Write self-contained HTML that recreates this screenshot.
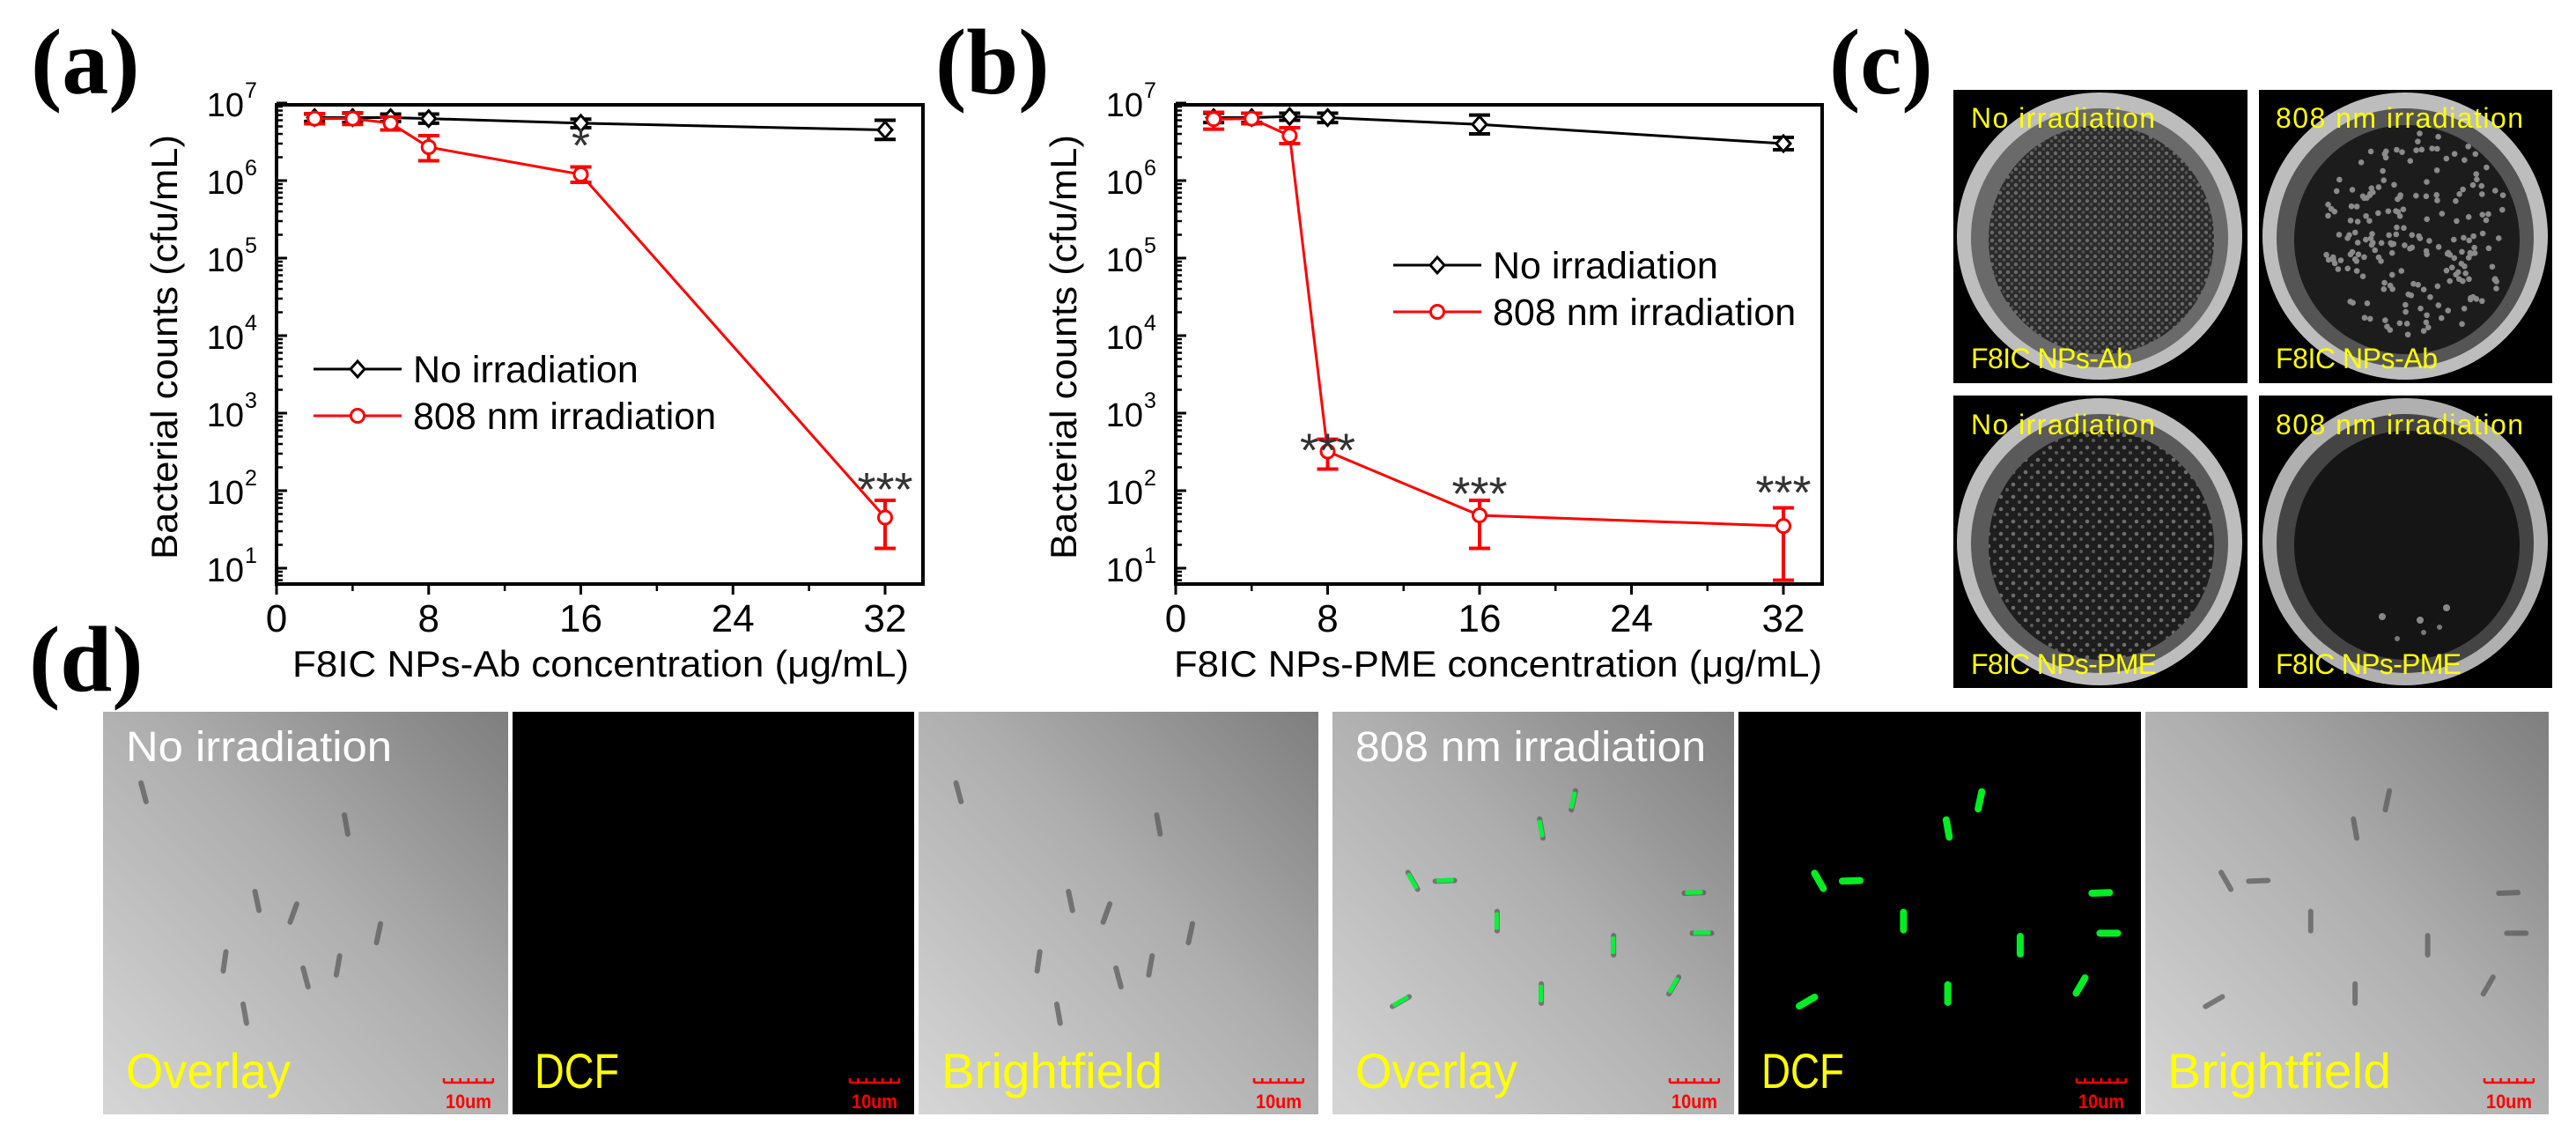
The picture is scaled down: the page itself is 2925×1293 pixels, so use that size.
<!DOCTYPE html>
<html><head><meta charset="utf-8"><style>
html,body{margin:0;padding:0;background:#fff}
svg{display:block}
text{font-family:"Liberation Sans",sans-serif}
</style></head><body>
<svg id="fig" width="2925" height="1293" viewBox="0 0 2925 1293" xmlns="http://www.w3.org/2000/svg">
<defs>
<linearGradient id="micro" x1="1" y1="0" x2="0" y2="1">
<stop offset="0" stop-color="#7e7e7e"/><stop offset="0.45" stop-color="#aeaeae"/><stop offset="1" stop-color="#d6d6d6"/>
</linearGradient>
<radialGradient id="agar" cx="0.5" cy="0.5" r="0.5">
<stop offset="0" stop-color="#2a2a2a"/><stop offset="1" stop-color="#1a1a1a"/>
</radialGradient>
<pattern id="dense" width="9" height="9" patternUnits="userSpaceOnUse">
<rect width="9" height="9" fill="#2b2b2b"/><circle cx="3" cy="3" r="2.2" fill="#6a6a6a"/><circle cx="7.5" cy="7" r="1.8" fill="#555"/>
</pattern>
<pattern id="medium" width="14" height="14" patternUnits="userSpaceOnUse">
<rect width="14" height="14" fill="#1e1e1e"/><circle cx="4" cy="4" r="2.3" fill="#6d6d6d"/><circle cx="11" cy="10" r="2" fill="#5a5a5a"/>
</pattern>
</defs>

<g id="panel-labels">
<text x="35" y="106" font-family="Liberation Serif" font-weight="bold" font-size="106" style="font-family:'Liberation Serif',serif">(a)</text>
<text x="1062" y="106" font-weight="bold" font-size="106" style="font-family:'Liberation Serif',serif">(b)</text>
<text x="2077" y="106" font-weight="bold" font-size="106" style="font-family:'Liberation Serif',serif">(c)</text>
<text x="33" y="784" font-weight="bold" font-size="106" style="font-family:'Liberation Serif',serif">(d)</text>
</g>

<g id="chart-a"></g>
<g id="chart-b"></g>

<!-- panel c -->
<g id="panel-c">
<g>
<rect x="2218" y="102" width="334" height="333" fill="#000"/>
<ellipse cx="2384" cy="268" rx="162" ry="163" fill="#bdbdbd"/>
<ellipse cx="2384" cy="270" rx="146" ry="147" fill="#6a6a6a"/>
<ellipse cx="2386" cy="272" rx="128" ry="130" fill="url(#dense)"/>
<text x="2238" y="145" font-size="32" fill="#ffff00" textLength="209">No irradiation</text>
<text x="2238" y="418" font-size="32" fill="#ffff00" textLength="183">F8IC NPs-Ab</text>
</g>
<g>
<rect x="2565" y="102" width="333" height="333" fill="#000"/>
<ellipse cx="2731" cy="268" rx="162" ry="163" fill="#bdbdbd"/>
<ellipse cx="2731" cy="270" rx="146" ry="147" fill="#555"/>
<ellipse cx="2733" cy="272" rx="128" ry="130" fill="#1c1c1c"/>
<g id="colonies-ab" fill="#8a8a8a"></g>
<text x="2584" y="145" font-size="32" fill="#ffff00" textLength="281">808 nm irradiation</text>
<text x="2584" y="418" font-size="32" fill="#ffff00" textLength="184">F8IC NPs-Ab</text>
</g>
<g>
<rect x="2218" y="449" width="334" height="332" fill="#000"/>
<ellipse cx="2384" cy="615" rx="162" ry="163" fill="#bdbdbd"/>
<ellipse cx="2384" cy="617" rx="146" ry="147" fill="#5a5a5a"/>
<ellipse cx="2386" cy="619" rx="128" ry="130" fill="url(#medium)"/>
<text x="2238" y="493" font-size="32" fill="#ffff00" textLength="209">No irradiation</text>
<text x="2238" y="765" font-size="32" fill="#ffff00" textLength="211">F8IC NPs-PME</text>
</g>
<g>
<rect x="2565" y="449" width="333" height="332" fill="#000"/>
<ellipse cx="2731" cy="615" rx="162" ry="163" fill="#b0b0b0"/>
<ellipse cx="2731" cy="617" rx="146" ry="147" fill="#444"/>
<ellipse cx="2733" cy="619" rx="128" ry="130" fill="#151515"/>
<circle cx="2778" cy="690" r="4" fill="#888"/><circle cx="2748" cy="704" r="4" fill="#888"/><circle cx="2705" cy="700" r="4" fill="#888"/><circle cx="2770" cy="712" r="3" fill="#777"/><circle cx="2722" cy="725" r="3" fill="#777"/><circle cx="2752" cy="718" r="3" fill="#777"/>
<text x="2584" y="493" font-size="32" fill="#ffff00" textLength="281">808 nm irradiation</text>
<text x="2584" y="765" font-size="32" fill="#ffff00" textLength="211">F8IC NPs-PME</text>
</g>
</g>

<!-- panel d -->
<g id="panel-d"></g>
</svg>

<script>
const NS = "http://www.w3.org/2000/svg";
function mk(parent, tag, attrs, txt) {
  const e = document.createElementNS(NS, tag);
  for (const k in attrs) e.setAttribute(k, attrs[k]);
  if (txt !== undefined) e.textContent = txt;
  parent.appendChild(e);
  return e;
}

// ---- chart data ----
const concentrations = [2, 4, 6, 8, 16, 32];
const xTicks = [0, 8, 16, 24, 32];
const yExponents = [1, 2, 3, 4, 5, 6, 7];
const seriesNames = ["No irradiation", "808 nm irradiation"];

const aNoIrr = [6.5e6, 6.5e6, 6.5e6, 6.3e6, 5.5e6, 4.5e6];
const aNoIrrLo = [5.8e6, 5.6e6, 5.8e6, 5.5e6, 4.8e6, 3.4e6];
const aNoIrrHi = [7.2e6, 7.4e6, 7.2e6, 7.2e6, 6.2e6, 6.0e6];
const aIrr = [6.3e6, 6.3e6, 5.5e6, 2.7e6, 1.2e6, 45];
const aIrrLo = [5.4e6, 5.3e6, 4.5e6, 1.8e6, 0.95e6, 18];
const aIrrHi = [7.3e6, 7.5e6, 6.6e6, 3.8e6, 1.5e6, 75];
const aStars = ["", "", "", "", "*", "***"];

const bNoIrr = [6.5e6, 6.5e6, 6.7e6, 6.5e6, 5.3e6, 3.0e6];
const bNoIrrLo = [5.6e6, 5.6e6, 6.0e6, 5.6e6, 4.0e6, 2.5e6];
const bNoIrrHi = [7.4e6, 7.4e6, 7.4e6, 7.4e6, 7.0e6, 3.6e6];
const bIrr = [6.2e6, 6.3e6, 3.8e6, 320, 48, 35];
const bIrrLo = [4.6e6, 5.4e6, 3.0e6, 190, 18, 7];
const bIrrHi = [7.6e6, 7.4e6, 4.8e6, 460, 75, 60];
const bStars = ["", "", "", "***", "***", "***"];

function drawChart(g, cfg) {
  const L = cfg.left, R = cfg.right, T = 119, B = 663;
  const x0 = cfg.x0, xPer = cfg.xPer;
  const y7 = 117, dec = 88;
  const X = v => x0 + v * xPer;
  const Y = v => y7 + (7 - Math.log10(v)) * dec;

  // frame
  const frame = mk(g, "rect", {x: L, y: T, width: R - L, height: B - T, fill: "none", stroke: "#000", "stroke-width": 4});
  
  

  // y ticks (major + minor)
  yExponents.forEach(e => {
    const y = Y(Math.pow(10, e));
    mk(g, "line", {x1: L, x2: L + 12, y1: y, y2: y, stroke: "#000", "stroke-width": 3});
    const t = mk(g, "text", {x: L - 37, y: y + 15, "font-size": 38, "text-anchor": "end"}, "10");
    
    
    const s = mk(g, "text", {x: L - 36, y: y - 6, "font-size": 25}, String(e));
    
    
  });
  for (let e = 0; e <= 6; e++) {
    for (let m = 2; m <= 9; m++) {
      const y = Y(m * Math.pow(10, e));
      if (y < T || y > B) continue;
      mk(g, "line", {x1: L, x2: L + 7, y1: y, y2: y, stroke: "#000", "stroke-width": 2.5});
    }
  }
  // x ticks
  xTicks.forEach(v => {
    const x = X(v);
    mk(g, "line", {x1: x, x2: x, y1: B, y2: B + 12, stroke: "#000", "stroke-width": 3});
    const t = mk(g, "text", {x: x, y: 717, "font-size": 44, "text-anchor": "middle"}, String(v));
    
    
  });
  [4, 12, 20, 28].forEach(v => {
    const x = X(v);
    mk(g, "line", {x1: x, x2: x, y1: B, y2: B + 8, stroke: "#000", "stroke-width": 2.5});
  });

  // titles
  const xt = mk(g, "text", {x: cfg.xtX, y: 768, "font-size": 42, textLength: cfg.xtLen, lengthAdjust: "spacingAndGlyphs"}, cfg.xTitle);
  
  
  const yt = mk(g, "text", {x: 0, y: 0, "font-size": 42, "text-anchor": "middle", textLength: 482, lengthAdjust: "spacingAndGlyphs", transform: `translate(${cfg.ytX},394) rotate(-90)`}, "Bacterial counts (cfu/mL)");
  
  

  function series(vals, lo, hi, color, marker, name) {
    const sg = mk(g, "g", {});
    
    
    const pts = concentrations.map((c, i) => X(c) + "," + Y(vals[i])).join(" ");
    mk(sg, "polyline", {points: pts, fill: "none", stroke: color, "stroke-width": 3});
    concentrations.forEach((c, i) => {
      const x = X(c);
      const eb = mk(sg, "path", {d: `M${x},${Y(lo[i])}V${Y(hi[i])}M${x - 12},${Y(lo[i])}H${x + 12}M${x - 12},${Y(hi[i])}H${x + 12}`, stroke: color, "stroke-width": 4, fill: "none"});
      
      
      const y = Y(vals[i]);
      let m;
      if (marker === "diamond") m = mk(sg, "path", {d: `M${x},${y - 9}L${x + 8},${y}L${x},${y + 9}L${x - 8},${y}Z`, fill: "#fff", stroke: color, "stroke-width": 3});
      else m = mk(sg, "circle", {cx: x, cy: y, r: 7.5, fill: "#fff", stroke: color, "stroke-width": 3});
      
      
    });
  }
  series(cfg.noIrr, cfg.noLo, cfg.noHi, "#000", "diamond", "series-no-irradiation");
  series(cfg.irr, cfg.irrLo, cfg.irrHi, "#ff0000", "circle", "series-808-irradiation");

  // significance stars
  concentrations.forEach((c, i) => {
    if (!cfg.stars[i]) return;
    const t = mk(g, "text", {x: X(c), y: Y(cfg.irrHi[i]) - 14 + cfg.starOff[i], "font-size": 54, "text-anchor": "middle", fill: "#333"}, cfg.stars[i]);
    
    
  });

  // legend
  const lg = mk(g, "g", {});
  
  
  [["#000", "diamond"], ["#ff0000", "circle"]].forEach((s, i) => {
    const y = cfg.legY + i * 53;
    const e = mk(lg, "g", {});
    
    
    mk(e, "line", {x1: cfg.legX, x2: cfg.legX + 100, y1: y, y2: y, stroke: s[0], "stroke-width": 3});
    const cx = cfg.legX + 50;
    if (s[1] === "diamond") mk(e, "path", {d: `M${cx},${y - 9}L${cx + 8},${y}L${cx},${y + 9}L${cx - 8},${y}Z`, fill: "#fff", stroke: s[0], "stroke-width": 3});
    else mk(e, "circle", {cx: cx, cy: y, r: 7.5, fill: "#fff", stroke: s[0], "stroke-width": 3});
    mk(e, "text", {x: cfg.legX + 113, y: y + 15, "font-size": 43}, seriesNames[i]);
  });
}

drawChart(document.getElementById("chart-a"), {
  left: 314, right: 1048, x0: 314, xPer: (1005 - 314) / 32,
  xTitle: "F8IC NPs-Ab concentration (\u03bcg/mL)", xtX: 332, xtLen: 700, ytX: 201,
  noIrr: aNoIrr, noLo: aNoIrrLo, noHi: aNoIrrHi, irr: aIrr, irrLo: aIrrLo, irrHi: aIrrHi,
  stars: aStars, starOff: [0, 0, 0, 0, 8, 20], legX: 356, legY: 419
});
drawChart(document.getElementById("chart-b"), {
  left: 1335, right: 2069, x0: 1335, xPer: (2025 - 1335) / 32,
  xTitle: "F8IC NPs-PME concentration (\u03bcg/mL)", xtX: 1333, xtLen: 736, ytX: 1222,
  noIrr: bNoIrr, noLo: bNoIrrLo, noHi: bNoIrrHi, irr: bIrr, irrLo: bIrrLo, irrHi: bIrrHi,
  stars: bStars, starOff: [0, 0, 0, 45, 25, 15], legX: 1582, legY: 301
});

// colonies on dish (808 Ab) - fixed texture positions via simple deterministic sequence
(function () {
  const g = document.getElementById("colonies-ab");
  let s = 7;
  function nx() { s = (s * 9301 + 49297) % 233280; return s / 233280; }
  for (let i = 0; i < 200; i++) {
    const a = nx() * Math.PI * 2, r = Math.sqrt(nx()) * 118;
    const c = mk(g, "circle", {cx: 2745 + r * Math.cos(a) * 0.9, cy: 265 + r * Math.sin(a), r: 3.3});
  }
})();

// panel d micrographs
(function () {
  const g = document.getElementById("panel-d");
  const imgs = [
    {x: 117, w: 460, type: "bright", label: "Overlay", lx: 143, lw: 187, head: "No irradiation", hx: 143, hw: 302},
    {x: 582, w: 456, type: "dark", label: "DCF", lx: 607, lw: 96},
    {x: 1043, w: 454, type: "bright", label: "Brightfield", lx: 1069, lw: 251},
    {x: 1513, w: 456, type: "bright", label: "Overlay", lx: 1539, lw: 184, head: "808 nm irradiation", hx: 1539, hw: 398, green: true},
    {x: 1974, w: 457, type: "dark", label: "DCF", lx: 2000, lw: 94, green: true},
    {x: 2436, w: 458, type: "bright", label: "Brightfield", lx: 2461, lw: 254}
  ];
  const rods = [[0.1,0.2,-15],[0.6,0.28,-10],[0.38,0.47,-12],[0.47,0.5,20],[0.35,0.75,-10],[0.58,0.63,10],[0.68,0.55,12],[0.3,0.62,8],[0.5,0.66,-15]];
  const rodsG = [[0.6,0.22,12],[0.52,0.29,-10],[0.2,0.42,-30],[0.28,0.42,88],[0.9,0.45,88],[0.92,0.55,90],[0.41,0.52,0],[0.7,0.58,0],[0.52,0.7,0],[0.17,0.72,60],[0.85,0.68,30]];
  imgs.forEach((im, k) => {
    const ig = mk(g, "g", {});
    
    
    mk(ig, "rect", {x: im.x, y: 808, width: im.w, height: 457, fill: im.type === "dark" ? "#000" : "url(#micro)"});
    if (im.type === "bright") {
      const set = k >= 3 ? rodsG : rods;
      set.forEach(r => {
        mk(ig, "rect", {x: im.x + r[0] * im.w - 3, y: 808 + r[1] * 457 - 14, width: 6, height: 28, rx: 3, fill: "#555", opacity: 0.7, transform: `rotate(${r[2]} ${im.x + r[0] * im.w} ${808 + r[1] * 457})`});
        if (im.green) mk(ig, "rect", {x: im.x + r[0] * im.w - 3, y: 808 + r[1] * 457 - 10, width: 5, height: 20, rx: 2, fill: "#00ff33", opacity: 0.9, transform: `rotate(${r[2]} ${im.x + r[0] * im.w} ${808 + r[1] * 457})`});
      });
    } else if (im.green) {
      rodsG.forEach(r => {
        mk(ig, "rect", {x: im.x + r[0] * im.w - 4, y: 808 + r[1] * 457 - 14, width: 8, height: 28, rx: 4, fill: "#00ee22", transform: `rotate(${r[2]} ${im.x + r[0] * im.w} ${808 + r[1] * 457})`});
      });
    }
    const lbl = mk(ig, "text", {x: im.lx, y: 1235, "font-size": 56, fill: "#ffff00", textLength: im.lw, lengthAdjust: "spacingAndGlyphs"}, im.label);
    
    
    if (im.head) {
      const h = mk(ig, "text", {x: im.hx, y: 864, "font-size": 48, fill: "#ffffff", textLength: im.hw, lengthAdjust: "spacingAndGlyphs"}, im.head);
      
      
    }
    const bx = im.x + im.w - 73;
    const sb = mk(ig, "path", {d: `M${bx},1229H${bx + 56}` + [0,1,2,3,4,5,6].map(i => `M${bx + i * 9.3},1229V1224`).join(""), stroke: "#ff0000", "stroke-width": 2.5, fill: "none"});
    
    
    const st = mk(ig, "text", {x: bx + 28, y: 1258, "font-size": 22, "font-weight": "bold", fill: "#ff0000", "text-anchor": "middle", textLength: 52, lengthAdjust: "spacingAndGlyphs"}, "10um");
    
    
  });
})();
</script>
</body></html>
